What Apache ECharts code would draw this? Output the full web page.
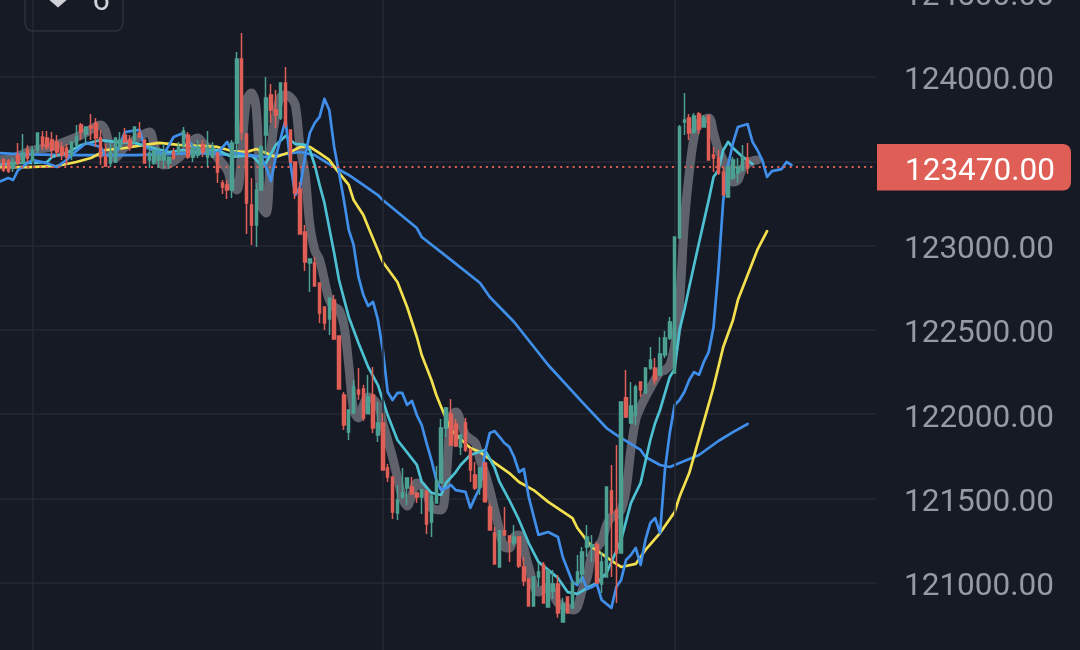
<!DOCTYPE html>
<html><head><meta charset="utf-8">
<style>html,body{margin:0;padding:0;background:#161a25;overflow:hidden}#c{width:1080px;height:650px}</style>
<script src="https://cdn.jsdelivr.net/npm/echarts@6/dist/echarts.min.js"></script>
</head><body><div id="c"></div>
<script>
const opens=[123502,123508,123502,123460,123537,123490,123567,123508,123567,123644,
123638,123626,123615,123585,123579,123537,123597,123715,123662,123709,
123727,123638,123526,123490,123496,123585,123656,123626,123626,123668,
123626,123508,123490,123508,123508,123490,123555,123555,123597,123656,
123526,123537,123597,123526,123526,123549,123371,123360,123330,123609,
124107,123662,123241,123122,123330,123656,123893,123804,123757,123964,
123686,123496,123336,123081,122897,122897,122778,122636,122565,122677,
122464,122114,121895,122007,122144,122150,122002,122114,121877,121948,
121681,121628,121414,121509,121563,121568,121533,121509,121545,121361,
121474,121592,121918,122001,121942,121806,121948,121788,121640,121568,
121711,121450,121296,121094,121308,121278,121236,121272,121094,121023,
120863,121035,121106,120857,120952,120993,120768,120916,120851,120999,
121052,121213,121213,121225,120993,121035,121545,121432,121177,122097,
121948,121995,122191,122126,122274,122274,122233,122351,122452,122245,
123045,123733,123757,123674,123781,123703,123769,123537,123520,123437,
123288,123401,123431,123448,123520];
const closes=[123448,123448,123443,123496,123490,123549,123520,123567,123668,123591,
123585,123567,123555,123537,123526,123615,123644,123674,123703,123697,
123638,123526,123472,123555,123638,123626,123615,123585,123703,123644,
123490,123549,123567,123537,123549,123526,123520,123585,123680,123526,
123579,123585,123555,123585,123585,123437,123348,123330,123609,124107,
123674,123253,123122,123330,123585,123876,123804,123775,123964,123715,
123496,123312,123069,122903,122921,122761,122600,122541,122689,122446,
122150,121936,122025,122162,122120,121978,122102,121918,121948,121669,
121628,121420,121491,121533,121622,121527,121509,121550,121349,121515,
121604,121918,122037,121817,121812,121877,121788,121669,121563,121681,
121480,121313,121112,121308,121284,121242,121272,121100,121011,120863,
121035,121064,120880,121076,120993,120821,120875,120821,120999,121064,
121183,121272,121225,120999,121124,121568,121414,121177,122073,121984,
122049,122162,122144,122274,122322,122203,122357,122452,122547,123051,
123703,123745,123668,123769,123692,123757,123508,123520,123431,123300,
123466,123508,123466,123526,123460];
const lows=[123437,123437,123431,123437,123478,123484,123496,123496,123549,123567,
123567,123520,123526,123508,123478,123508,123585,123626,123597,123626,
123585,123478,123466,123466,123490,123567,123609,123561,123609,123638,
123490,123460,123478,123460,123460,123454,123508,123537,123585,123514,
123496,123520,123526,123466,123520,123371,123306,123277,123282,123526,
123626,123069,123004,122992,123325,123537,123727,123697,123745,123697,
123496,123277,123069,122850,122725,122761,122541,122499,122470,122440,
122150,121906,121847,122000,122085,121960,122002,121889,121835,121669,
121598,121379,121373,121497,121462,121527,121474,121408,121290,121272,
121474,121592,121865,121817,121806,121758,121776,121598,121550,121521,
121480,121313,121112,121094,121284,121124,121219,121088,120981,120863,
120863,120975,120880,120857,120904,120792,120768,120821,120851,120999,
120999,121153,121124,120999,120940,121035,121035,120880,121177,121978,
121942,121936,122102,122126,122262,122174,122233,122334,122440,122245,
123045,123656,123626,123662,123662,123703,123508,123437,123419,123300,
123288,123389,123371,123437,123425];
const highs=[123520,123520,123514,123520,123609,123662,123597,123591,123668,123680,
123680,123674,123656,123615,123603,123615,123715,123727,123703,123781,
123757,123686,123603,123609,123638,123674,123697,123656,123703,123733,
123626,123585,123567,123579,123603,123526,123579,123615,123703,123674,
123609,123626,123626,123680,123615,123549,123389,123389,123626,124148,
124261,123662,123401,123371,123597,124000,123958,123923,123964,124059,
123686,123496,123377,123122,122921,122933,122778,122636,122689,122707,
122464,122132,122025,122203,122274,122174,122233,122280,122073,122007,
121705,121628,121580,121681,121622,121628,121533,121550,121545,121515,
121693,121972,122043,122090,121972,121877,121978,121800,121717,121681,
121711,121474,121331,121308,121450,121278,121343,121272,121153,121023,
121035,121118,121124,121076,121076,121047,120910,120916,121017,121165,
121213,121343,121284,121242,121183,121568,121699,121817,122073,122262,
122191,122174,122191,122274,122399,122334,122458,122494,122577,123051,
123715,123905,123781,123787,123793,123775,123775,123585,123567,123466,
123466,123526,123520,123597,123609];

const grayLine=[[0,123508],[3,123520],[7,123567],[10,123579],[13,123609],[17,123656],[21,123715],[24,123520],[26,123585],[28,123626],[31,123674],[32,123597],[34,123478],[37,123520],[41,123638],[42,123609],[44,123555],[47,123448],[48,123360],[49,123330],[50,123567],[51,123864],[52,123905],[53,123804],[54,123241],[55,123193],[56,123567],[57,123775],[58,123881],[59,123893],[60,123881],[61,123834],[62,123585],[63,123431],[64,123122],[65,122974],[66,122915],[67,122796],[68,122677],[69,122636],[70,122618],[71,122529],[72,122292],[73,122025],[74,121978],[75,122054],[76,122102],[78,122054],[79,121948],[81,121746],[83,121509],[84,121456],[85,121521],[86,121592],[88,121533],[89,121444],[91,121432],[92,121610],[93,121978],[94,122013],[96,121877],[98,121829],[99,121728],[100,121651],[101,121550],[102,121432],[103,121313],[104,121212],[105,121206],[106,121272],[107,121284],[108,121206],[109,121094],[111,120945],[113,120975],[115,120880],[117,120851],[118,120839],[119,120857],[120,120957],[121,121028],[122,121165],[124,121248],[125,121343],[126,121390],[127,121402],[128,121432],[129,121550],[130,121788],[131,121966],[132,122043],[134,122155],[136,122250],[137,122262],[138,122292],[139,122410],[140,122660],[141,123134],[142,123431],[143,123644],[144,123727],[146,123757],[147,123668],[148,123567],[149,123508],[150,123448],[151,123377],[152,123389],[153,123460],[155,123502],[156,123508]];
const fastBlue=[[0,123377],[2,123401],[3,123389],[4,123448],[6,123490],[7,123508],[9,123496],[11,123478],[12,123466],[14,123508],[15,123537],[17,123585],[18,123609],[21,123585],[22,123537],[24,123537],[26,123674],[29,123686],[30,123585],[34,123543],[36,123644],[38,123668],[40,123585],[43,123555],[45,123549],[47,123615],[48,123555],[49,123549],[54,123526],[55,123466],[56,123383],[57,123526],[59,123745],[60,123490],[61,123300],[62,123348],[63,123526],[64,123668],[65,123727],[66,123763],[67,123870],[68,123804],[69,123585],[70,123431],[71,123270],[72,123093],[73,123004],[74,122814],[75,122707],[76,122642],[77,122666],[78,122559],[79,122381],[80,122132],[81,122084],[82,122126],[83,122126],[84,122055],[85,122079],[86,121995],[87,121936],[88,121829],[89,121728],[90,121610],[91,121550],[92,121562],[93,121580],[94,121550],[96,121539],[97,121444],[98,121509],[99,121568],[100,121770],[101,121889],[102,121900],[103,121865],[104,121829],[105,121806],[106,121746],[107,121657],[108,121675],[109,121509],[111,121284],[113,121301],[115,121272],[116,121153],[118,121005],[119,120987],[120,121035],[121,120963],[122,120975],[123,120993],[124,120898],[126,120851],[127,120975],[128,121017],[129,121135],[130,121165],[131,121207],[132,121106],[133,121254],[134,121355],[135,121384],[136,121295],[137,121669],[138,121889],[139,122054],[140,122084],[141,122132],[142,122203],[143,122250],[144,122233],[145,122310],[146,122369],[147,122517],[148,122855],[149,123270],[150,123478],[151,123609],[152,123703],[154,123721],[155,123615],[156,123567],[157,123508],[158,123407],[159,123442],[161,123454],[162,123496],[163,123478]];
const cyanLine=[[0,123478],[4,123490],[7,123490],[10,123496],[11,123526],[14,123549],[17,123597],[21,123626],[24,123615],[28,123609],[31,123585],[35,123555],[38,123567],[41,123555],[45,123567],[48,123526],[52,123537],[54,123478],[55,123490],[57,123597],[59,123650],[60,123626],[61,123603],[63,123597],[64,123567],[65,123478],[66,123360],[67,123253],[69,122956],[70,122796],[72,122577],[74,122422],[76,122280],[78,122173],[80,121995],[82,121847],[86,121699],[87,121598],[89,121533],[91,121521],[92,121592],[94,121657],[95,121699],[97,121758],[100,121788],[102,121681],[103,121598],[105,121491],[107,121373],[109,121236],[111,121124],[115,121029],[117,120945],[119,120934],[121,120969],[123,120999],[125,121058],[128,121254],[130,121473],[132,121592],[134,121847],[135,121948],[136,122025],[138,122221],[139,122268],[140,122499],[141,122618],[142,122754],[144,123015],[146,123270],[147,123407],[148,123448],[149,123567],[150,123615],[151,123579],[153,123526],[155,123484]];
const yellowLine=[[0,123466],[6,123466],[12,123472],[16,123496],[19,123520],[21,123549],[22,123567],[26,123579],[30,123597],[33,123609],[37,123597],[41,123591],[45,123585],[48,123561],[51,123555],[53,123573],[55,123549],[57,123526],[60,123555],[62,123585],[64,123585],[66,123549],[68,123508],[70,123431],[72,123360],[73,123270],[75,123181],[76,123110],[79,122903],[82,122784],[84,122636],[86,122458],[87,122351],[89,122203],[90,122114],[91,122043],[93,121906],[97,121800],[99,121776],[102,121711],[105,121651],[107,121598],[110,121550],[113,121480],[118,121384],[119,121325],[122,121212],[127,121112],[128,121094],[131,121112],[133,121195],[136,121295],[139,121420],[140,121510],[142,121651],[147,122161],[149,122399],[151,122559],[152,122677],[156,122974],[158,123086]];
const slowBlue=[[0,123549],[4,123543],[14,123537],[28,123537],[41,123549],[55,123526],[62,123555],[65,123537],[69,123466],[72,123419],[78,123300],[79,123270],[86,123104],[87,123051],[93,122915],[99,122778],[101,122695],[106,122547],[113,122292],[120,122072],[125,121918],[127,121877],[132,121788],[133,121746],[136,121699],[138,121687],[139,121699],[142,121734],[144,121758],[148,121841],[151,121894],[154,121942]];
const timeMarks=[7,79,139];
const lastPrice=123470;
const tickMin=120500, tickMax=124500, tickStep=500;
const badgeCount='6';

const categories=Array.from({length:181},(_,i)=>String(i));
const candles=opens.map((o,i)=>[o,closes[i],lows[i],highs[i]]);
const GREEN='#4ca192',RED='#df5f57',GRID='#262933';
const thin=(name,data,color,w)=>({name,type:'line',data,showSymbol:false,connectNulls:true,z:3,silent:true,
  lineStyle:{color,width:w||2.7,cap:'round',join:'round'}});

const chart=echarts.init(document.getElementById('c'),null,{renderer:'canvas'});
chart.setOption({
  animation:false,backgroundColor:'#161a25',
  grid:{left:-3.9,top:-7.3,width:880.4,height:674.4,outerBoundsMode:'none',containLabel:false},
  xAxis:{type:'category',data:categories,boundaryGap:true,axisLine:{show:false},axisTick:{show:false},axisLabel:{show:false},splitLine:{show:false}},
  yAxis:{type:'value',position:'right',min:tickMin,max:tickMax,interval:tickStep,
    axisLine:{show:false},axisTick:{show:false},
    splitLine:{lineStyle:{color:GRID,width:1.5}},
    axisLabel:{margin:27.5,align:'left',verticalAlign:'top',lineHeight:9,color:'#969aa4',fontFamily:'Roboto',fontSize:31.5,showMaxLabel:true,showMinLabel:true,formatter:v=>v.toFixed(2)}},
  series:[
    {name:'marks',type:'line',data:[],z:1,silent:true,
      markLine:{silent:true,symbol:'none',animation:false,label:{show:false},lineStyle:{color:GRID,width:1.5,type:'solid'},
        data:timeMarks.map(m=>({xAxis:String(m)}))}},
    {name:'MA gray',type:'line',data:grayLine,smooth:0.35,showSymbol:false,z:2,silent:true,
      lineStyle:{color:'#60626b',width:9,cap:'round',join:'round'}},
    thin('MA slow',slowBlue,'#3f8fea'),
    thin('MA yellow',yellowLine,'#f3e04f'),
    thin('MA cyan',cyanLine,'#4dc0d2'),
    thin('MA fast',fastBlue,'#3f8fea'),
    {name:'price',type:'candlestick',data:candles,barWidth:3,z:5,silent:true,
      itemStyle:{color:GREEN,color0:RED,borderColor:GREEN,borderColor0:RED,borderWidth:1.5},
      markLine:{silent:true,symbol:'none',animation:false,label:{show:false},
        lineStyle:{color:RED,width:1.8,type:[2,4.2]},data:[{yAxis:lastPrice}]}}
  ],
  graphic:[
    {type:'rect',shape:{x:25,y:-25,width:98,height:56,r:8},style:{fill:'transparent',stroke:'#2e313c',lineWidth:1.5},z:10},
    {type:'polygon',shape:{points:[[47,-2],[58,7.5],[69,-2]]},style:{fill:'#cfd1d6'},z:11},
    {type:'text',x:101,y:18,style:{text:badgeCount,fill:'#cfd1d6',font:'31.5px Roboto',textAlign:'center',textVerticalAlign:'bottom'},z:11},
    {type:'rect',shape:{x:877,y:144,width:194,height:46.5,r:[0,8,8,0]},style:{fill:'#df5f57'},z:20},
    {type:'text',x:905,y:172,style:{text:lastPrice.toFixed(2),fill:'#ffffff',font:'31.5px Roboto',textAlign:'left',textVerticalAlign:'middle'},z:21}
  ]
});
</script></body></html>
